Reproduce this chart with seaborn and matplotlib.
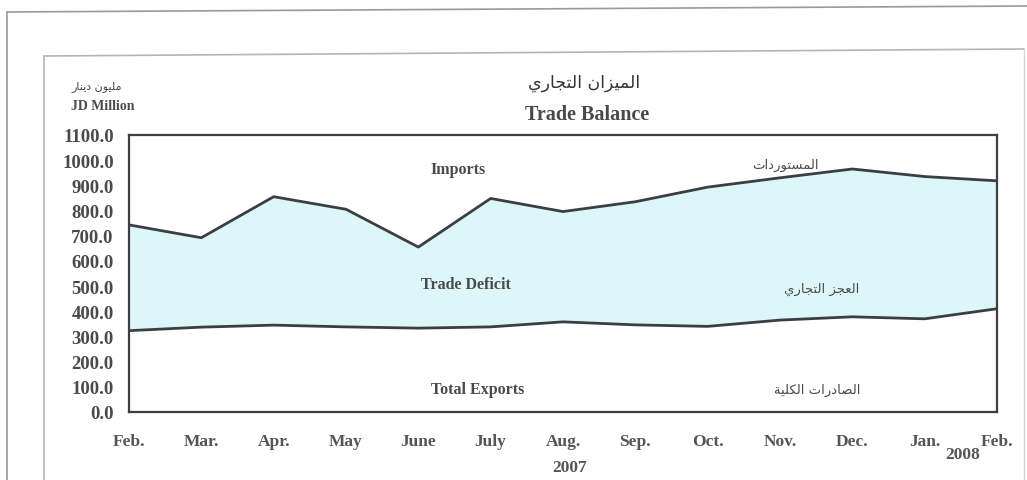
import numpy as np
import pandas as pd
import matplotlib
matplotlib.use("Agg")
import matplotlib.pyplot as plt
from matplotlib.lines import Line2D
import seaborn as sns

# ---------------- data ----------------
months = ["Feb.", "Mar.", "Apr.", "May", "June", "July", "Aug.", "Sep.",
          "Oct.", "Nov.", "Dec.", "Jan.", "Feb."]
imports = [743, 692, 855, 805, 655, 848, 796, 835, 893, 930, 965, 935, 918]
exports = [323, 337, 345, 338, 333, 338, 358, 346, 340, 365, 378, 370, 410]
yticks = [0, 100, 200, 300, 400, 500, 600, 700, 800, 900, 1000, 1100]

title_ar = "الميزان التجاري"
title_en = "Trade Balance"
unit_ar = "مليون دينار"
unit_en = "JD Million"
lbl_imports_en = "Imports"
lbl_imports_ar = "المستوردات"
lbl_deficit_en = "Trade Deficit"
lbl_deficit_ar = "العجز التجاري"
lbl_exports_en = "Total Exports"
lbl_exports_ar = "الصادرات الكلية"
year_labels = ["2007", "2008"]

# ------------- minimal Arabic shaping (matplotlib has no shaping) -------------
FORMS = {  # iso, fin, ini, med
    "ا": (0xFE8D, 0xFE8E, None, None),
    "ة": (0xFE93, 0xFE94, None, None),
    "ت": (0xFE95, 0xFE96, 0xFE97, 0xFE98),
    "ج": (0xFE9D, 0xFE9E, 0xFE9F, 0xFEA0),
    "د": (0xFEA9, 0xFEAA, None, None),
    "ر": (0xFEAD, 0xFEAE, None, None),
    "ز": (0xFEAF, 0xFEB0, None, None),
    "س": (0xFEB1, 0xFEB2, 0xFEB3, 0xFEB4),
    "ص": (0xFEB9, 0xFEBA, 0xFEBB, 0xFEBC),
    "ع": (0xFEC9, 0xFECA, 0xFECB, 0xFECC),
    "ك": (0xFED9, 0xFEDA, 0xFEDB, 0xFEDC),
    "ل": (0xFEDD, 0xFEDE, 0xFEDF, 0xFEE0),
    "م": (0xFEE1, 0xFEE2, 0xFEE3, 0xFEE4),
    "ن": (0xFEE5, 0xFEE6, 0xFEE7, 0xFEE8),
    "و": (0xFEED, 0xFEEE, None, None),
    "ي": (0xFEF1, 0xFEF2, 0xFEF3, 0xFEF4),
}


def shape_ar(s):
    out = []
    n = len(s)
    for i, ch in enumerate(s):
        if ch not in FORMS:
            out.append(ch)
            continue
        prev = s[i - 1] if i > 0 else None
        nxt = s[i + 1] if i < n - 1 else None
        jp = prev in FORMS and FORMS[prev][2] is not None
        jn = nxt in FORMS and FORMS[ch][2] is not None
        iso, fin, ini, med = FORMS[ch]
        if jp and jn:
            c = med
        elif jp:
            c = fin
        elif jn:
            c = ini
        else:
            c = iso
        out.append(chr(c))
    return "".join(out)[::-1]


# ---------------- figure ----------------
sns.set_theme(style="white")
plt.rcParams["font.family"] = ["Liberation Serif", "DejaVu Sans"]

fig = plt.figure(figsize=(10.27, 4.81), dpi=100)
ax = fig.add_axes([129 / 1027, 1 - 413 / 481, 868 / 1027, 277 / 481])

df = pd.DataFrame({"x": np.arange(len(months)), "imports": imports, "exports": exports})
ax.fill_between(df["x"], df["exports"], df["imports"], color="#DDF6FA", lw=0, zorder=1)
sns.lineplot(data=df, x="x", y="imports", ax=ax, color="#3b3f44", lw=2.0, zorder=3)
sns.lineplot(data=df, x="x", y="exports", ax=ax, color="#3b3f44", lw=2.0, zorder=3)

ax.set_xlim(0, len(months) - 1)
ax.set_ylim(0, 1100)
ax.set_xticks(df["x"])
ax.set_xticklabels(months)
ax.set_yticks(yticks)
ax.set_yticklabels([f"{v:.1f}" for v in yticks])
ax.set_xlabel("")
ax.set_ylabel("")
ax.tick_params(axis="y", length=0, pad=11, labelsize=13.5, labelcolor="#4a4a4a")
ax.tick_params(axis="x", length=0, pad=15, labelsize=12.5, labelcolor="#555555")
for lab in ax.get_yticklabels():
    lab.set_fontweight("bold")
for lab in ax.get_xticklabels():
    lab.set_fontweight("bold")
for sp in ax.spines.values():
    sp.set_visible(True)
    sp.set_color("#3b3f44")
    sp.set_linewidth(1.6)

# annotations inside plot (data coords)
txt_kw = dict(ha="center", va="center", color="#4a4a4a", fontsize=11.5, fontweight="bold")
ar_kw = dict(ha="center", va="center", color="#4a4a4a", fontsize=9.5, family=["DejaVu Sans"])
ax.text(4.55, 965, lbl_imports_en, **txt_kw)
ax.text(9.07, 985, shape_ar(lbl_imports_ar), **ar_kw)
ax.text(4.66, 508, lbl_deficit_en, **txt_kw)
ax.text(9.58, 490, shape_ar(lbl_deficit_ar), **ar_kw)
ax.text(4.82, 91, lbl_exports_en, **txt_kw)
ax.text(9.52, 91, shape_ar(lbl_exports_ar), **ar_kw)

# titles / unit labels (figure pixel coords)
def fx(px):
    return px / 1027


def fy(py):
    return 1 - py / 481


fig.text(fx(584), fy(83), shape_ar(title_ar), ha="center", va="center",
         fontsize=12.5, color="#333333", family=["DejaVu Sans"])
fig.text(fx(587), fy(115), title_en, ha="center", va="center",
         fontsize=14.5, fontweight="bold", color="#4a4a4a")
fig.text(fx(97), fy(87), shape_ar(unit_ar), ha="center", va="center",
         fontsize=8, color="#444444", family=["DejaVu Sans"])
fig.text(fx(103), fy(107), unit_en, ha="center", va="center",
         fontsize=10, fontweight="bold", color="#4a4a4a")
fig.text(fx(570), fy(468), year_labels[0], ha="center", va="center",
         fontsize=12.5, fontweight="bold", color="#555555")
fig.text(fx(963), fy(455), year_labels[1], ha="center", va="center",
         fontsize=12.5, fontweight="bold", color="#555555")

# scanned page frames
frame_c = "#9a9a9a"
fig.add_artist(Line2D([fx(7), fx(1027)], [fy(13), fy(7)], color=frame_c, lw=1.2))
fig.add_artist(Line2D([fx(7), fx(7)], [fy(13), fy(481)], color=frame_c, lw=1.2))
fig.add_artist(Line2D([fx(44), fx(1024)], [fy(57), fy(50)], color="#b5b5b5", lw=1.2))
fig.add_artist(Line2D([fx(44), fx(44)], [fy(57), fy(481)], color="#b5b5b5", lw=1.2))
fig.add_artist(Line2D([fx(1024), fx(1024)], [fy(50), fy(481)], color="#d5d5d5", lw=1.0))

fig.savefig("out.png", dpi=100, facecolor="white")
